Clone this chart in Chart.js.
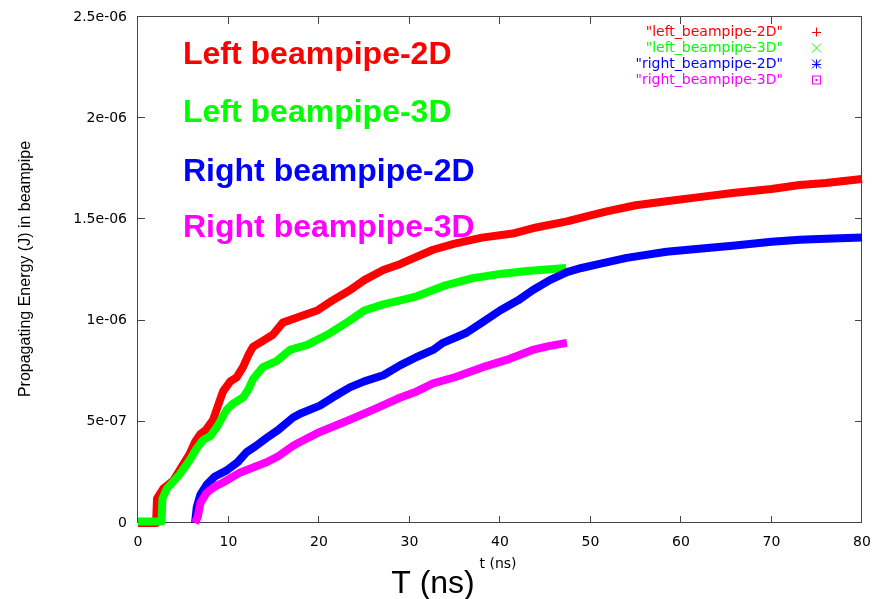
<!DOCTYPE html>
<html>
<head>
<meta charset="utf-8">
<script src="https://cdn.jsdelivr.net/npm/chart.js@4.4.0/dist/chart.umd.min.js"></script>
<style>
  body { margin: 0; background: #fff; }
  canvas { display: block; }
</style>
</head>
<body>
<canvas id="myChart" width="876" height="599"></canvas>
<script>
// energies below are read in units of 1e-6 J
const unit = 1e-6;

const tLeft2D = [0, 2.0, 2.1, 2.8, 3.9, 5.0, 5.7, 6.3, 6.9, 7.5, 8.3, 9.0, 9.4, 10.2, 10.9, 11.6, 12.2, 12.7, 13.8, 14.9, 16.0, 17.9, 19.8, 21.5, 23.4, 25.0, 27.1, 29.0, 30.0, 32.6, 35.0, 38.0, 41.4, 44.0, 47.4, 50.0, 51.8, 55.0, 58.4, 62.0, 65.7, 70.0, 73.1, 76.0, 80.0];
const eLeft2D = [0, 0, 0.12, 0.17, 0.21, 0.29, 0.34, 0.40, 0.44, 0.46, 0.51, 0.60, 0.65, 0.70, 0.72, 0.77, 0.83, 0.87, 0.90, 0.93, 0.99, 1.02, 1.05, 1.10, 1.15, 1.20, 1.25, 1.28, 1.30, 1.35, 1.38, 1.41, 1.43, 1.46, 1.49, 1.52, 1.54, 1.57, 1.59, 1.61, 1.63, 1.65, 1.67, 1.68, 1.70];

const tLeft3D = [0, 2.6, 2.7, 3.2, 4.6, 5.7, 6.5, 7.2, 8.0, 8.8, 9.8, 10.5, 11.6, 12.2, 12.7, 13.8, 15.3, 16.8, 18.7, 20.9, 23.4, 25.0, 27.1, 29.0, 30.8, 33.7, 34.5, 37.0, 40.0, 43.0, 47.3];
const eLeft3D = [0.007, 0.007, 0.12, 0.17, 0.24, 0.31, 0.37, 0.41, 0.43, 0.48, 0.56, 0.59, 0.62, 0.66, 0.71, 0.77, 0.80, 0.855, 0.88, 0.93, 1.00, 1.05, 1.08, 1.10, 1.12, 1.17, 1.18, 1.21, 1.23, 1.245, 1.26];

const tRight2D = [6.3, 6.5, 6.9, 7.6, 8.5, 9.8, 11.0, 12.0, 13.0, 14.2, 15.5, 17.1, 17.9, 20.1, 21.5, 23.4, 25.0, 27.1, 29.0, 30.8, 32.6, 33.7, 36.3, 38.0, 40.0, 42.0, 43.6, 45.5, 47.4, 49.0, 51.0, 54.0, 58.4, 62.0, 65.7, 70.0, 73.1, 76.0, 80.0];
const eRight2D = [0, 0.08, 0.14, 0.19, 0.23, 0.26, 0.30, 0.35, 0.38, 0.42, 0.46, 0.52, 0.54, 0.58, 0.62, 0.67, 0.70, 0.73, 0.78, 0.82, 0.855, 0.89, 0.94, 0.99, 1.05, 1.10, 1.15, 1.20, 1.24, 1.26, 1.28, 1.31, 1.34, 1.355, 1.37, 1.39, 1.40, 1.405, 1.41];

const tRight3D = [6.3, 6.6, 6.9, 7.6, 8.5, 9.4, 11.3, 12.5, 14.2, 15.5, 17.1, 17.9, 20.1, 23.4, 26.0, 29.0, 30.8, 32.6, 35.0, 38.1, 41.0, 43.6, 45.5, 47.4];
const eRight3D = [0, 0.03, 0.10, 0.15, 0.18, 0.20, 0.25, 0.27, 0.30, 0.33, 0.38, 0.40, 0.45, 0.51, 0.56, 0.62, 0.65, 0.69, 0.72, 0.77, 0.81, 0.855, 0.875, 0.89];

const xTicks = [0, 10, 20, 30, 40, 50, 60, 70, 80];
const xTickLabels = ["0", "10", "20", "30", "40", "50", "60", "70", "80"];
const yTicks = [0, 5e-7, 1e-6, 1.5e-6, 2e-6, 2.5e-6];
const yTickLabels = ["0", "5e-07", "1e-06", "1.5e-06", "2e-06", "2.5e-06"];

const seriesNames = ['"left_beampipe-2D"', '"left_beampipe-3D"', '"right_beampipe-2D"', '"right_beampipe-3D"'];
const bigLabels = ["Left beampipe-2D", "Left beampipe-3D", "Right beampipe-2D", "Right beampipe-3D"];
const colors = ['#ff0000', '#00ff00', '#0000ff', '#ff00ff'];

const toPoints = (ts, es) => ts.map((t, i) => ({ x: t, y: es[i] * unit }));

const makeSet = (i, ts, es) => ({
    label: seriesNames[i],
    data: toPoints(ts, es),
    borderColor: colors[i],
    backgroundColor: colors[i],
    borderWidth: 8,
    borderCapStyle: 'butt',
    borderJoinStyle: 'round',
    pointRadius: 0,
    tension: 0,
    clip: false,
    order: 4 - i
});

// frame box with inward mirror ticks, like gnuplot
const frame = {
    id: 'frame',
    beforeDatasetsDraw(chart) {
        const { ctx, chartArea: a, scales: { x, y } } = chart;
        ctx.save();
        ctx.strokeStyle = '#444';
        ctx.lineWidth = 1;
        ctx.strokeRect(a.left - 0.5, a.top - 0.5, a.width, a.height);
        ctx.beginPath();
        xTicks.forEach(v => {
            const px = Math.round(x.getPixelForValue(v)) - 0.5;
            ctx.moveTo(px, a.bottom); ctx.lineTo(px, a.bottom - 7);
            ctx.moveTo(px, a.top); ctx.lineTo(px, a.top + 7);
        });
        yTicks.forEach(v => {
            const py = Math.round(y.getPixelForValue(v)) - 0.5;
            ctx.moveTo(a.left, py); ctx.lineTo(a.left + 7, py);
            ctx.moveTo(a.right, py); ctx.lineTo(a.right - 7, py);
        });
        ctx.stroke();
        ctx.restore();
    }
};

const texts = {
    id: 'texts',
    afterDraw(chart) {
        const ctx = chart.ctx;
        ctx.save();

        // big coloured labels
        ctx.font = 'bold 32px "Liberation Sans", Arial, sans-serif';
        ctx.textAlign = 'left';
        ctx.textBaseline = 'alphabetic';
        const baselines = [64, 122, 181, 237];
        bigLabels.forEach((s, i) => {
            ctx.fillStyle = colors[i];
            ctx.fillText(s, 183, baselines[i]);
        });

        // key, top right
        ctx.font = '14px "DejaVu Sans", sans-serif';
        ctx.textAlign = 'right';
        ctx.textBaseline = 'middle';
        const keyY = [32, 48, 64, 80];
        seriesNames.forEach((s, i) => {
            ctx.fillStyle = colors[i];
            ctx.fillText(s, 783, keyY[i]);
        });
        ctx.lineWidth = 1;
        const mx = 816.5, r = 4.5;
        // +
        ctx.strokeStyle = colors[0];
        ctx.beginPath();
        ctx.moveTo(mx - r, keyY[0] + 0.5); ctx.lineTo(mx + r, keyY[0] + 0.5);
        ctx.moveTo(mx, keyY[0] - r); ctx.lineTo(mx, keyY[0] + r);
        ctx.stroke();
        // x
        ctx.strokeStyle = colors[1];
        ctx.beginPath();
        ctx.moveTo(mx - r, keyY[1] - r); ctx.lineTo(mx + r, keyY[1] + r);
        ctx.moveTo(mx - r, keyY[1] + r); ctx.lineTo(mx + r, keyY[1] - r);
        ctx.stroke();
        // *
        ctx.strokeStyle = colors[2];
        ctx.beginPath();
        ctx.moveTo(mx - r, keyY[2] + 0.5); ctx.lineTo(mx + r, keyY[2] + 0.5);
        ctx.moveTo(mx, keyY[2] - r); ctx.lineTo(mx, keyY[2] + r);
        ctx.moveTo(mx - r, keyY[2] - r); ctx.lineTo(mx + r, keyY[2] + r);
        ctx.moveTo(mx - r, keyY[2] + r); ctx.lineTo(mx + r, keyY[2] - r);
        ctx.stroke();
        // boxed dot
        ctx.strokeStyle = colors[3];
        ctx.fillStyle = colors[3];
        ctx.strokeRect(mx - 4, keyY[3] - 4, 8, 8);
        ctx.fillRect(mx - 1, keyY[3] - 1, 2, 2);

        // axis titles
        ctx.fillStyle = '#000';
        ctx.textAlign = 'center';
        ctx.textBaseline = 'middle';
        ctx.font = '16px "Liberation Sans", Arial, sans-serif';
        ctx.save();
        ctx.translate(26, 269);
        ctx.rotate(-Math.PI / 2);
        ctx.fillText("Propagating Energy (J) in beampipe", 0, 0);
        ctx.restore();

        ctx.font = '14px "DejaVu Sans", sans-serif';
        ctx.fillText("t (ns)", 498, 564);

        ctx.textBaseline = 'alphabetic';
        ctx.font = '32px "Liberation Sans", Arial, sans-serif';
        ctx.fillText("T (ns)", 433, 593);
        ctx.restore();
    }
};

const tickFont = { family: 'DejaVu Sans', size: 14 };

const ctx = document.getElementById("myChart").getContext("2d");
new Chart(ctx, {
    type: 'line',
    data: {
        datasets: [
            makeSet(0, tLeft2D, eLeft2D),
            makeSet(1, tLeft3D, eLeft3D),
            makeSet(2, tRight2D, eRight2D),
            makeSet(3, tRight3D, eRight3D)
        ]
    },
    options: {
        responsive: false,
        animation: false,
        layout: { padding: { left: 0, right: 14, top: 17, bottom: 0 } },
        plugins: {
            legend: { display: false },
            tooltip: { enabled: false }
        },
        scales: {
            x: {
                type: 'linear',
                min: 0,
                max: 80,
                grid: { display: false, drawTicks: false },
                border: { display: false },
                afterBuildTicks: s => { s.ticks = xTicks.map(v => ({ value: v })); },
                afterFit: s => { s.height = 76; s.paddingLeft = 0; s.paddingRight = 0; },
                ticks: {
                    padding: 11,
                    color: '#000',
                    font: tickFont,
                    maxRotation: 0,
                    autoSkip: false,
                    callback: (v, i) => xTickLabels[i]
                }
            },
            y: {
                type: 'linear',
                min: 0,
                max: 2.5e-6,
                grid: { display: false, drawTicks: false },
                border: { display: false },
                afterBuildTicks: s => { s.ticks = yTicks.map(v => ({ value: v })); },
                afterFit: s => { s.width = 138; s.paddingTop = 0; s.paddingBottom = 0; },
                ticks: {
                    padding: 11,
                    color: '#000',
                    font: tickFont,
                    autoSkip: false,
                    callback: (v, i) => yTickLabels[i]
                }
            }
        }
    },
    plugins: [frame, texts]
});
</script>
</body>
</html>
